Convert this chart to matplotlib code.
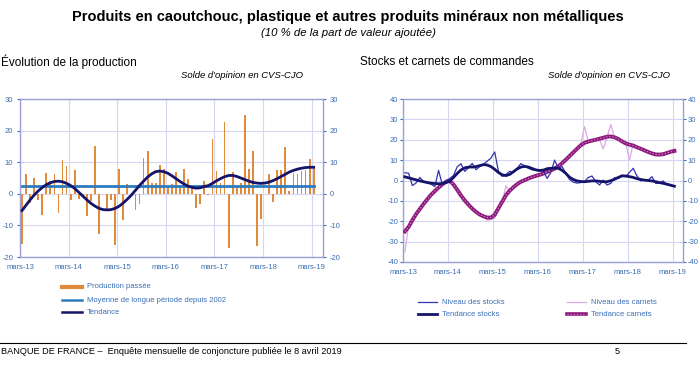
import matplotlib.pyplot as plt
from matplotlib.lines import Line2D

plt.rcParams['font.family'] = ['Liberation Sans', 'DejaVu Sans']
plt.rcParams['axes.unicode_minus'] = False

# données mensuelles, mars 2013 -> mars 2019 (73 mois)
tick_labels = ['mars-13', 'mars-14', 'mars-15', 'mars-16', 'mars-17', 'mars-18', 'mars-19']

production_passee = [
    -16, 6.4, -3, 5, -2, -6.7, 6.7, 4.2, 6.4, -6, 10.6, 8.8,
    -1.9, 7.6, -1.6, -1, -7.1, -2.4, 15.2, -12.7, 0, -4.8, -1.9, -16.1,
    7.7, -8.2, 3.2, 0, -5.1, -3.2, 11.3, 13.6, 3.5, 3.5, 9, 7.7,
    1.9, 3.2, 6.9, 2, 8, 4.6, 1.6, -4.6, -3.3, 4.2, -0.5, 17.3,
    7.1, 3.5, 22.8, -17.3, 6.9, 2, 3.5, 24.9, 7.7, 13.6, -16.4, -8,
    0, 6.4, -2.7, 7.4, 7.4, 14.8, 1, 6.7, 6.2, 7.1, 7.4, 10.9,
    8.2]
moyenne_longue = 2.5
tendance_prod = [
    -5.3, -3.6, -1.9, -0.4, 0.9, 2.0, 2.9, 3.5, 3.9, 4.0, 3.8, 3.3,
    2.6, 1.7, 0.5, -0.7, -1.9, -3.0, -3.9, -4.6, -5.0, -5.1, -5.0, -4.6,
    -3.9, -2.9, -1.7, -0.4, 1.1, 2.6, 4.0, 5.3, 6.3, 7.0, 7.2, 7.0,
    6.5, 5.7, 4.8, 3.9, 3.1, 2.4, 2.0, 1.8, 1.9, 2.3, 2.6, 3.3,
    4.1, 4.8, 5.4, 5.8, 5.8, 5.5, 5.0, 4.5, 4.0, 3.6, 3.4, 3.3,
    3.4, 3.7, 4.2, 4.8, 5.5, 6.2, 6.9, 7.4, 7.8, 8.1, 8.3, 8.4,
    8.4]

niveau_stocks = [
    3.8, 3.6, -2.5, -1.2, 1.5, -0.5, -1.2, -1.8, -3.0, 5.0, -2.0, 0.0,
    1.0, 2.5, 6.8, 8.2, 4.5, 6.2, 8.4, 5.3, 6.8, 8.0, 9.5, 11.0,
    14.0, 4.5, 2.0, 3.0, 4.5, 4.0, 6.0, 8.3, 7.2, 6.0, 5.2, 5.0,
    4.8, 4.6, 1.0, 4.0, 10.0, 6.0, 6.8, 3.5, 0.5, -0.8, -1.3, -1.0,
    -0.5, 1.5, 2.2, -0.6, -2.2, 0.2, -2.2, -1.4, 1.4, 1.0, 2.2, 1.9,
    4.0, 6.0, 2.2, -0.2, 0.2, 0.2, 1.9, -1.4, -1.4, -0.2, -2.2, -2.5,
    -3.0]
tendance_stocks = [
    1.8, 1.3, 0.8, 0.3, -0.2, -0.6, -1.0, -1.3, -1.5, -1.6, -1.5, -1.0,
    -0.2, 1.5, 3.5, 5.2, 6.2, 6.6, 6.6, 6.8, 7.3, 7.8, 7.6, 6.8,
    5.5, 3.9, 2.8, 2.4, 3.0, 4.3, 5.7, 6.6, 6.9, 6.6, 5.9, 5.2,
    4.9, 5.1, 5.8, 6.0, 6.1, 6.0, 5.0, 3.5, 1.6, 0.5, -0.2, -0.5,
    -0.6, -0.4, -0.2, -0.2, -0.4, -0.6, -0.6, -0.1, 0.6, 1.5, 2.3, 2.2,
    1.9, 1.5, 0.9, 0.5, 0.2, 0.0, -0.2, -0.6, -1.0, -1.4, -1.8, -2.3,
    -2.8]
niveau_carnets = [
    -35, -22, -19, -17, -13.5, -12, -9, -7.5, -4.5, -4, -1.5, -1,
    0, -2.5, -5, -7, -10.5, -11.5, -14.5, -15, -17, -17.5, -19.5, -19,
    -18.5, -14, -11, -2.5, -5.5, -3, -2, -1, 0.5, 1, 2, 2.5,
    3, 3, 4.5, 5, 6, 7, 8.5, 10.5, 12, 14, 15.5, 18,
    26.5, 19, 19.5, 20.5, 20, 15.5, 21, 27.5, 21, 20.5, 19, 18.5,
    10, 18, 16.5, 15.5, 15, 14, 13, 13, 12.5, 13, 13.5, 14.5,
    15.5]
tendance_carnets = [
    -25, -22.8, -19.5, -16.5, -14, -11.5, -9.2, -7, -5.2, -3.5, -1.9, -0.6,
    -0.2, -2, -4.6, -7.4, -9.8, -11.9, -13.8, -15.4, -16.7, -17.6, -18.2, -18.2,
    -16.8, -13.6, -10.4, -7.2, -5, -3.3, -1.8, -0.6, 0.2, 1.0, 1.7, 2.3,
    2.8, 3.4, 4.2, 5.0, 5.8, 7.0, 8.5, 10.2, 12.0, 13.8, 15.6, 17.3,
    18.5, 19.1, 19.6, 20.0, 20.5, 21.0, 21.5, 21.6, 21.2, 20.4, 19.2, 18.2,
    17.6, 17.1, 16.3, 15.6, 14.8, 14.0, 13.3, 12.8, 12.7, 12.9, 13.5, 14.1,
    14.5]

# couleurs
c_bar = '#e08a3c'
c_moy = '#2e7bbf'
c_navy = '#14146b'
c_stock = '#3333b0'
c_carnet = '#dca8e6'
c_carnet_t = '#8b1a7a'
c_txt = '#3a6eb5'
c_grid = '#d6d6f2'
c_frame = '#9d9dd8'

W, H = 700, 369


def fx(px):
    return px / W


def fy(py):
    return 1 - py / H


x = [m + 0.5 for m in range(len(production_passee))]
tick_pos = [12 * i for i in range(len(tick_labels))]

fig = plt.figure(figsize=(7, 3.69), dpi=100)


def style_axes(ax, ylim, step, pad):
    ax.set_xlim(0, 74.8)
    ax.set_ylim(*ylim)
    ax.set_yticks(range(ylim[0], ylim[1] + 1, step))
    ax.set_xticks(tick_pos)
    ax.set_xticklabels(tick_labels)
    ax.grid(True, color=c_grid, linewidth=0.8)
    ax.set_axisbelow(True)
    for s in ax.spines.values():
        s.set_color(c_frame)
        s.set_linewidth(1.0)
    ax.tick_params(axis='y', labelsize=5.5, colors=c_txt, length=2,
                   right=True, labelright=True, pad=pad)
    ax.tick_params(axis='x', labelsize=5.5, colors=c_txt, length=0, pad=5)


# --- Évolution de la production
ax1 = fig.add_axes([fx(20), fy(257), (323 - 20) / W, (257 - 99) / H])
ax1.bar(x, production_passee, width=0.45, color=c_bar, zorder=2)
ax1.plot([x[0], x[-1]], [moyenne_longue, moyenne_longue], color=c_moy, lw=2, zorder=3)
ax1.plot(x, tendance_prod, color=c_navy, lw=2, zorder=4)
style_axes(ax1, (-20, 30), 10, 3)

# --- Stocks et carnets
ax2 = fig.add_axes([fx(403), fy(262), (683 - 403) / W, (262 - 99) / H])
ax2.plot(x, niveau_carnets, color=c_carnet, lw=0.9, zorder=2)
ax2.plot(x, tendance_carnets, color=c_carnet_t, lw=2.8, zorder=3)
ax2.plot(x, tendance_carnets, color='#d57ac8', lw=0.9, ls=(0, (1, 1.5)), zorder=4)
ax2.plot(x, niveau_stocks, color=c_stock, lw=0.9, zorder=5)
ax2.plot(x, tendance_stocks, color=c_navy, lw=2, zorder=6)
style_axes(ax2, (-40, 40), 10, 1.5)

# titres
fig.text(fx(348), fy(17), 'Produits en caoutchouc, plastique et autres produits minéraux non métalliques',
         ha='center', va='center', fontsize=10.5, fontweight='bold')
fig.text(fx(348), fy(33), '(10 % de la part de valeur ajoutée)',
         ha='center', va='center', fontsize=8.2, style='italic')
fig.text(fx(1), fy(62), 'Évolution de la production', va='center', fontsize=8.5)
fig.text(fx(303), fy(75), "Solde d'opinion en CVS-CJO", ha='right', va='center',
         fontsize=6.8, style='italic')
fig.text(fx(360), fy(62), 'Stocks et carnets de commandes', va='center', fontsize=8.5)
fig.text(fx(670), fy(75), "Solde d'opinion en CVS-CJO", ha='right', va='center',
         fontsize=6.8, style='italic')


def legend_item(x0, x1, y, label, **kw):
    fig.add_artist(Line2D([fx(x0), fx(x1)], [fy(y), fy(y)], transform=fig.transFigure, **kw))
    fig.text(fx(x1 + 5), fy(y), label, va='center', fontsize=5.5, color=c_txt)


legend_item(62, 82, 287, 'Production passée', color=c_bar, lw=3)
legend_item(62, 82, 300, 'Moyenne de longue période depuis 2002', color=c_moy, lw=1.8)
legend_item(62, 82, 312, 'Tendance', color=c_navy, lw=1.8)

legend_item(418, 437, 302, 'Niveau des stocks', color=c_stock, lw=0.9)
legend_item(418, 437, 314, 'Tendance stocks', color=c_navy, lw=2)
legend_item(567, 586, 302, 'Niveau des carnets', color=c_carnet, lw=0.9)
legend_item(567, 586, 314, 'Tendance carnets', color=c_carnet_t, lw=2.6)
fig.add_artist(Line2D([fx(567), fx(586)], [fy(314), fy(314)], transform=fig.transFigure,
                      color='#d57ac8', lw=0.9, ls=(0, (1, 1.5))))

# pied de page
fig.add_artist(Line2D([0, fx(686)], [fy(343), fy(343)], transform=fig.transFigure,
                      color='black', lw=0.8))
fig.text(fx(1), fy(352), 'BANQUE DE FRANCE –  Enquête mensuelle de conjoncture publiée le 8 avril 2019',
         va='center', fontsize=6.6)
fig.text(fx(615), fy(352), '5', va='center', fontsize=6.6)

fig.savefig('out.png', dpi=100)
